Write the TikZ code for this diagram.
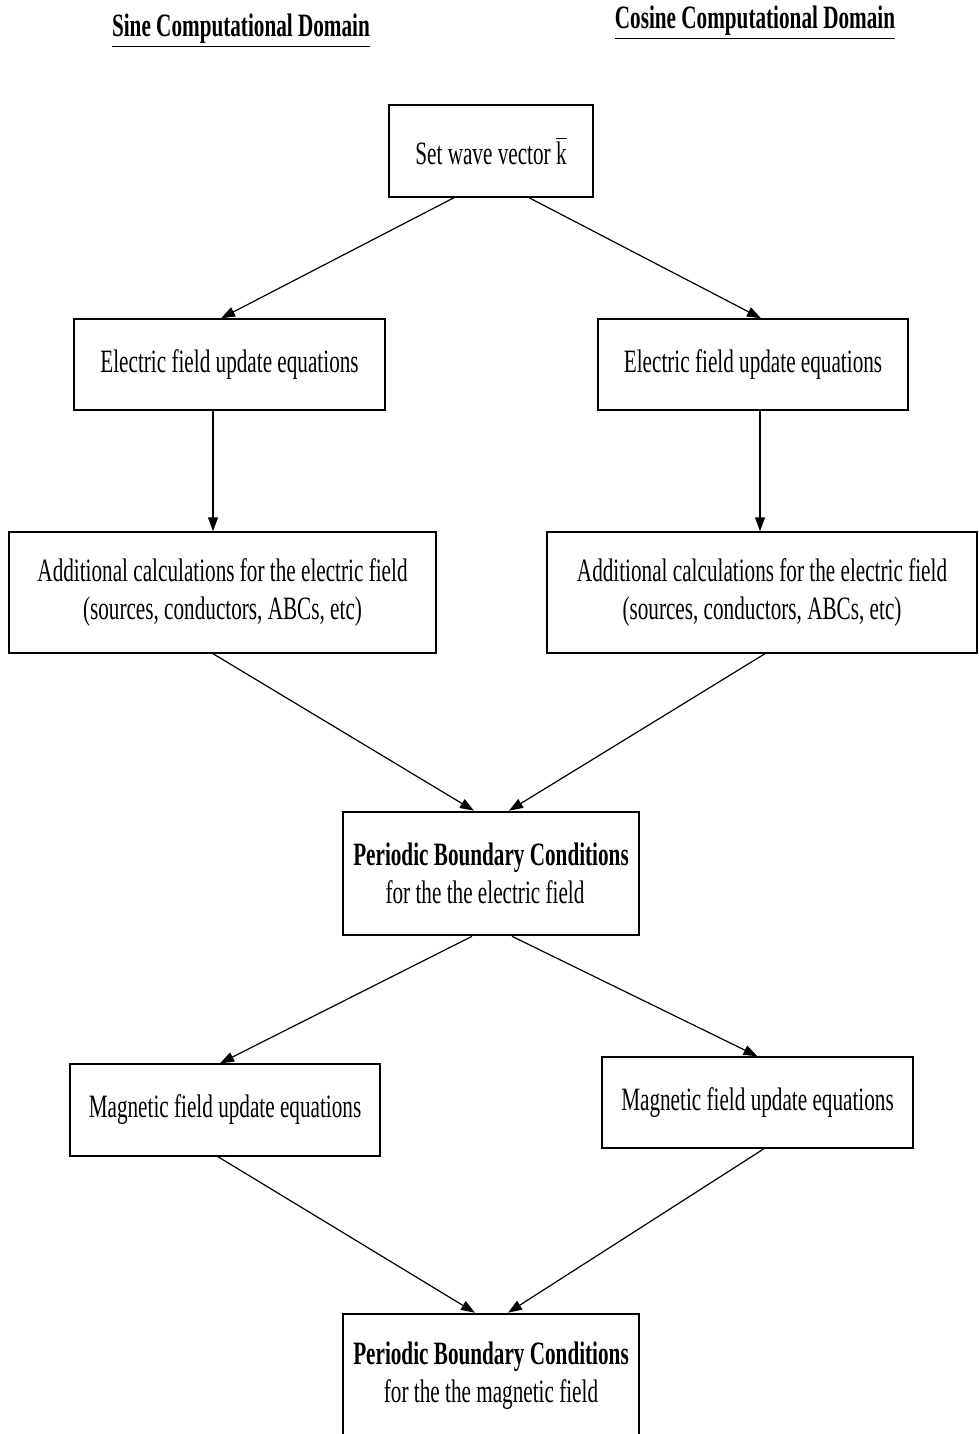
\documentclass[tikz,border=0pt]{standalone}
\usepackage{fontspec}
\setmainfont{Liberation Serif}[FakeStretch=0.65]
\usetikzlibrary{arrows.meta,positioning,calc}

\begin{document}
\begin{tikzpicture}[x=0.5pt, y=-0.5pt, every node/.style={font=\fontsize{16.3}{19}\selectfont}]
\tikzset{blk/.style={draw, line width=0.7pt, align=center, inner sep=2pt}}
\tikzset{pbc/.style={blk, line width=1.3pt, minimum width=148pt, minimum height=61.5pt}}
\tikzset{arr/.style={-{Triangle[length=7pt,width=5pt]}, line width=0.6pt}}
\useasboundingbox (0,0) rectangle (979,1434);
\node[anchor=base] (hSin) at (241,37) {\underline{\bfseries Sine Computational Domain}};
\node[anchor=base] (hCos) at (755,29) {\underline{\bfseries Cosine Computational Domain}};
\node[blk, minimum width=102pt, minimum height=46pt] (k) at (491,151) {Set wave vector $\overline{\mbox{k}}$};
\node[blk, minimum width=155.5pt, minimum height=45.5pt] (eL) at (229.5,364.5) {Electric field update equations};
\node[blk, minimum width=155pt, minimum height=45.5pt] (eR) at (753,364.5) {Electric field update equations};
\node[blk, minimum width=213.5pt, minimum height=60.5pt] (aL) at (222.5,592.5) {Additional calculations for the electric field\\(sources, conductors, ABCs, etc)};
\node[blk, minimum width=215pt, minimum height=60.5pt] (aR) at (762,592.5) {Additional calculations for the electric field\\(sources, conductors, ABCs, etc)};
\node[pbc] (pE) at (491,873.5) {\bfseries Periodic Boundary Conditions\\for the the electric field\hspace*{6pt}};
\node[blk, minimum width=155pt, minimum height=46pt] (mL) at (225,1110) {Magnetic field update equations};
\node[blk, minimum width=155.5pt, minimum height=45.5pt] (mR) at (757.5,1102.5) {Magnetic field update equations};
\node[pbc] (pM) at (491,1375.5) {\bfseries Periodic Boundary Conditions\\for the the magnetic field};
\draw[arr] ([xshift=-18.5pt]k.south) -- ([xshift=-4.25pt]eL.north);
\draw[arr] ([xshift=19pt]k.south) -- ([xshift=4pt]eR.north);
\draw[arr] ([xshift=-8.25pt]eL.south) -- ([xshift=-4.75pt]aL.north);
\draw[arr] ([xshift=3.5pt]eR.south) -- ([xshift=-1pt]aR.north);
\draw[arr] ([xshift=-4.75pt]aL.south) -- ([xshift=-8.5pt]pE.north);
\draw[arr] ([xshift=1.5pt]aR.south) -- ([xshift=9pt]pE.north);
\draw[arr] ([xshift=-9.5pt]pE.south) -- ([xshift=-2.5pt]mL.north);
\draw[arr] ([xshift=10.5pt]pE.south) -- (mR.north);
\draw[arr] ([xshift=-3.5pt]mL.south) -- ([xshift=-8pt]pM.north);
\draw[arr] ([xshift=3.25pt]mR.south) -- ([xshift=8.5pt]pM.north);
\end{tikzpicture}
\end{document}
